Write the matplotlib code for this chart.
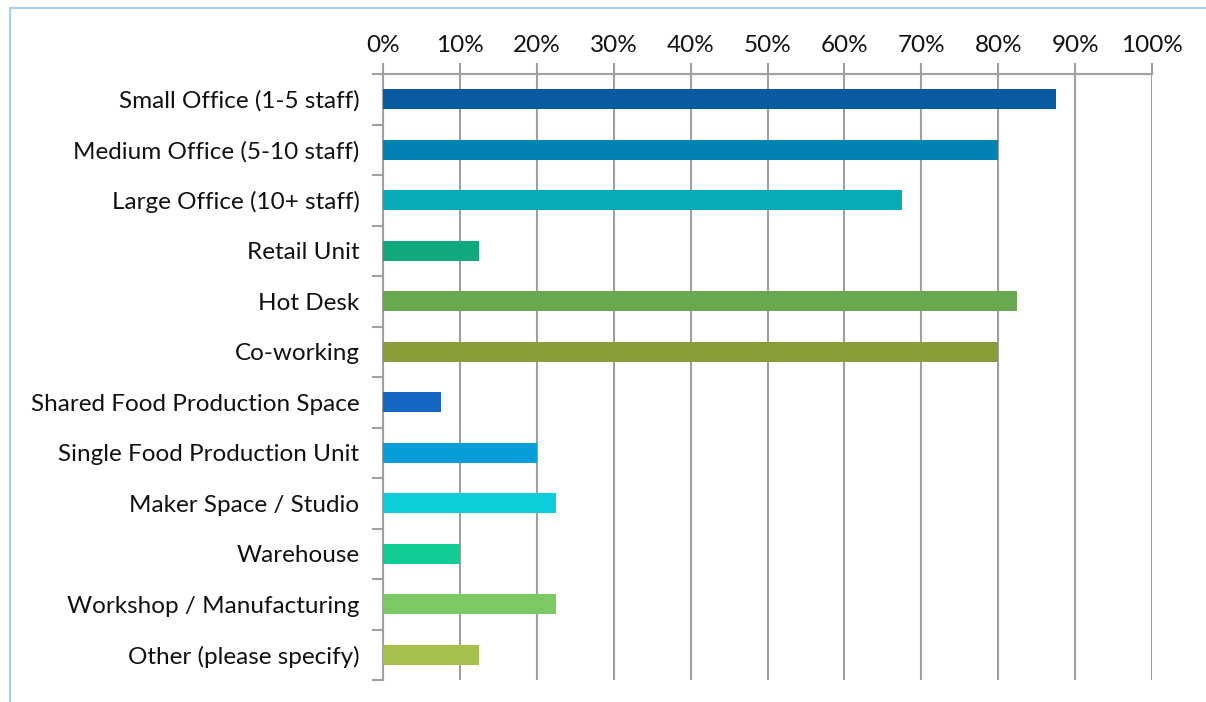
import matplotlib
matplotlib.use("Agg")
import matplotlib.pyplot as plt
from matplotlib.lines import Line2D

categories = ["Small Office (1-5 staff)", "Medium Office (5-10 staff)", "Large Office (10+ staff)",
              "Retail Unit", "Hot Desk", "Co-working", "Shared Food Production Space",
              "Single Food Production Unit", "Maker Space / Studio", "Warehouse",
              "Workshop / Manufacturing", "Other (please specify)"]
values = [87.5, 80.0, 67.5, 12.5, 82.5, 80.0, 7.5, 20.0, 22.5, 10.0, 22.5, 12.5]
colors = ["#0A5AA0", "#0082B4", "#08ABB7", "#12A87F", "#67A851", "#879E3B",
          "#1468C4", "#069ED8", "#0ECDDB", "#12CC96", "#7DC963", "#A6C14B"]
xticks = list(range(0, 101, 10))
xticklabels = [f"{t}%" for t in xticks]

plt.rcParams['font.family'] = ['Lato', 'DejaVu Sans']

fig = plt.figure(figsize=(12.06, 7.02), dpi=100)
W, H = 1206, 702
ax = fig.add_axes([383 / W, 1 - 680 / H, (1152 - 383) / W, (680 - 74) / H])

# outer frame (top and left edges visible)
fig.add_artist(Line2D([9.5 / W, 1.0], [1 - 7.5 / H, 1 - 7.5 / H], transform=fig.transFigure,
                      color="#A9CDEE", linewidth=1.5))
fig.add_artist(Line2D([9.5 / W, 9.5 / W], [0, 1 - 7.5 / H], transform=fig.transFigure,
                      color="#A9CDEE", linewidth=1.5))

n = len(categories)
ypos = list(range(n))
ax.barh(ypos, values, height=0.4, color=colors, zorder=3)
ax.set_ylim(n - 0.5, -0.5)
ax.set_xlim(0, 100)

ax.set_xticks(xticks)
ax.set_xticklabels(xticklabels, fontsize=17.5, color="#111111")
ax.xaxis.tick_top()
ax.tick_params(axis='x', length=8, width=1.5, color="#A0A0A0", pad=5, direction='out')
ax.set_yticks(ypos)
ax.set_yticklabels(categories, fontsize=17.5, color="#111111")
ax.set_yticks([i - 0.5 for i in range(n + 1)], minor=True)
ax.tick_params(axis='y', which='major', length=0, pad=17)
ax.tick_params(axis='y', which='minor', length=8, width=1.5, color="#A0A0A0", direction='out')

ax.grid(axis='x', color="#A0A0A0", linewidth=1.5, zorder=0)
for s in ['right', 'bottom']:
    ax.spines[s].set_visible(False)
for s in ['top', 'left']:
    ax.spines[s].set_color("#A0A0A0")
    ax.spines[s].set_linewidth(1.5)

fig.savefig("out.png", dpi=100)
